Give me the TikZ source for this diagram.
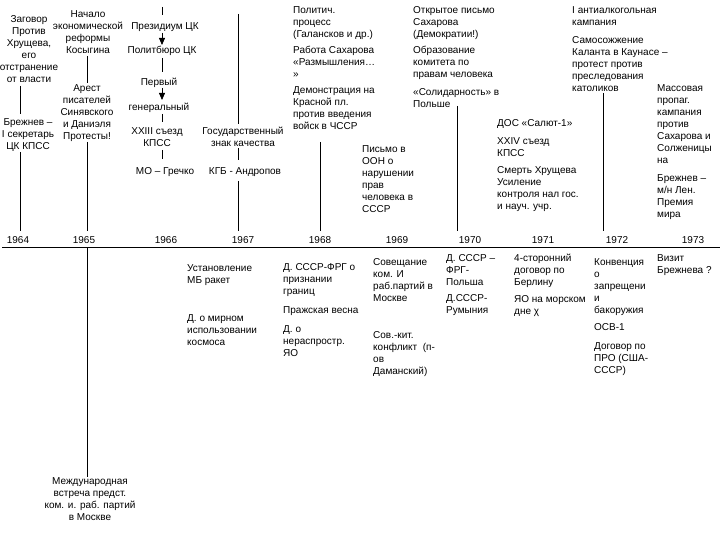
\documentclass[tikz,border=0pt]{standalone}
\usepackage{fontspec}
\setmainfont{Liberation Sans}
\usetikzlibrary{arrows.meta}
\begin{document}
\begin{tikzpicture}[x=1pt,y=-1pt,
  every node/.style={inner sep=0pt, font=\fontsize{10}{12}\selectfont},
  tl/.style={anchor=north west, align=left},
  tc/.style={anchor=north, align=center},
  yr/.style={anchor=center},
  vl/.style={line width=0.8pt},
  ar/.style={line width=0.8pt, -{Triangle[width=6pt,length=7pt]}},
  axis/.style={line width=1.2pt}]
\path[use as bounding box, fill=white] (0,0) rectangle (720,540);

% ---- 1964
\node[tc] (z64) at (29,13.6) {\strut Заговор\\Против\\Хрущева,\\его\\отстранение\\от власти};
\node[tc] (b64) at (28,116.6) {\strut Брежнев –\\I секретарь\\ЦК КПСС};
% ---- 1965
\node[tc] (n65) at (88,8.6) {\strut Начало\\экономической\\реформы\\Косыгина};
\node[tc] (a65) at (87,82.6) {\strut Арест\\писателей\\Синявского\\и Даниэля\\Протесты!};
\node[tc] (m65) at (90,475.6) {\strut Международная\\встреча предст.\\ком. и. раб. партий\\в Москве};
% ---- 1966
\node[tc] (p66) at (165,20.6) {\strut Президиум ЦК};
\node[tc] (pb66) at (162,44.6) {\strut Политбюро ЦК};
\node[tc] (f66) at (159,76.6) {\strut Первый};
\node[tc] (g66) at (159,101.6) {\strut генеральный};
\node[tc] (s66) at (157,125.6) {\strut XXIII съезд\\КПСС};
\node[tc] (mo66) at (165,165.6) {\strut МО – Гречко};
% ---- 1967
\node[tc] (gz67) at (243,125.6) {\strut Государственный\\знак качества};
\node[tc] (kgb67) at (245,165.6) {\strut КГБ - Андропов};
% ---- 1968
\node[tl] (pol68) at (293,4.6) {\strut Политич.\\процесс\\(Галансков и др.)};
\node[tl] (rab68) at (293,44.6) {\strut Работа Сахарова\\«Размышления…\\»};
\node[tl] (dem68) at (293,84.6) {\strut Демонстрация на\\Красной пл.\\против введения\\войск в ЧССР};
\node[tl] (pis69) at (362,143.6) {\strut Письмо в\\ООН о\\нарушении\\прав\\человека в\\СССР};
% ---- 1970
\node[tl] (otk70) at (413,4.6) {\strut Открытое письмо\\Сахарова\\(Демократии!)};
\node[tl] (obr70) at (413,44.6) {\strut Образование\\комитета по\\правам человека};
\node[tl] (sol70) at (413,86.6) {\strut «Солидарность» в\\Польше};
\node[tl] (dos71) at (497,117.6) {\strut ДОС «Салют-1»};
\node[tl] (xxiv71) at (497,135.6) {\strut XXIV съезд\\КПСС};
\node[tl] (sm71) at (497,164.6) {\strut Смерть Хрущева\\Усиление\\контроля нал гос.\\и науч. учр.};
% ---- 1972
\node[tl] (ant72) at (572,4.6) {\strut I антиалкогольная\\кампания};
\node[tl] (sam72) at (572,34.6) {\strut Самосожжение\\Каланта в Каунасе –\\протест против\\преследования\\католиков};
\node[tl] (mas73) at (657,82.6) {\strut Массовая\\пропаг.\\кампания\\против\\Сахарова и\\Солженицы\\на};
\node[tl] (br73) at (657,172.6) {\strut Брежнев –\\м/н Лен.\\Премия\\мира};

% ---- below the axis
\node[tl] (ust66) at (187,262.6) {\strut Установление\\МБ ракет};
\node[tl] (dom66) at (187,312.6) {\strut Д. о мирном\\использовании\\космоса};
\node[tl] (dfrg68) at (283,261.6) {\strut Д. СССР-ФРГ о\\признании\\границ};
\node[tl] (pra68) at (283,304.6) {\strut Пражская весна};
\node[tl] (dnr68) at (283,323.6) {\strut Д. о\\нераспростр.\\ЯО};
\node[tl] (sov69) at (373,256.6) {\strut Совещание\\ком. И\\раб.партий в\\Москве};
\node[tl] (kit69) at (373,329.6) {\strut Сов.-кит.\\конфликт\ \ (п-\\ов\\Даманский)};
\node[tl] (dfp70) at (446,252.6) {\strut Д. СССР –\\ФРГ-\\Польша};
\node[tl] (dru70) at (446,292.6) {\strut Д.СССР-\\Румыния};
\node[tl] (ber71) at (514,252.6) {\strut 4-сторонний\\договор по\\Берлину};
\node[tl] (yao71) at (514,293.6) {\strut ЯО на морском\\дне χ};
\node[tl] (kon72) at (594,256.6) {\strut Конвенция\\о\\запрещени\\и\\бакоружия};
\node[tl] (osv72) at (594,321.6) {\strut ОСВ-1};
\node[tl] (pro72) at (594,340.6) {\strut Договор по\\ПРО (США-\\СССР)};
\node[tl] (viz73) at (657,252.6) {\strut Визит\\Брежнева ?};

% ---- years
\foreach \yy/\xx in {1964/18,1965/84,1966/166,1967/243,1968/320,1969/397,1970/470,1971/543,1972/617,1973/693}
  \node[yr] (y\yy) at (\xx,240) {\yy};

% ---- axis
\coordinate (axL) at (2,247.5);
\coordinate (axR) at (720,247.5);
\draw[axis] (axL) -- (axR);

% ---- connector ends
\coordinate (c64a) at (20,86);  \coordinate (c64b) at (20,114);
\coordinate (c64c) at (20,152); \coordinate (c64d) at (20,231);
\coordinate (c65a) at (87,56);  \coordinate (c65b) at (87,83);
\coordinate (c65c) at (87,142); \coordinate (c65d) at (87,231);
\coordinate (c65e) at (87,248); \coordinate (c65f) at (87,477);
\coordinate (c66a) at (162,7);  \coordinate (c66b) at (162,15);
\coordinate (c66c) at (162,33); \coordinate (c66d) at (162,45);
\coordinate (c66e) at (162,58); \coordinate (c66f) at (162,72);
\coordinate (c66g) at (162,88); \coordinate (c66h) at (162,100);
\coordinate (c66i) at (162,114);\coordinate (c66j) at (162,122);
\coordinate (c66k) at (162,150);\coordinate (c66l) at (162,159);
\coordinate (c67a) at (238,14); \coordinate (c67b) at (238,124);
\coordinate (c67c) at (238,148);\coordinate (c67d) at (238,160);
\coordinate (c67e) at (238,181);\coordinate (c67f) at (238,231);
\coordinate (c68a) at (320,142);\coordinate (c68b) at (320,231);
\coordinate (c70a) at (457,106);\coordinate (c70b) at (457,231);
\coordinate (c72a) at (603,93); \coordinate (c72b) at (603,231);

\draw[vl] (c64a) -- (c64b);
\draw[vl] (c64c) -- (c64d);
\draw[vl] (c65a) -- (c65b);
\draw[vl] (c65c) -- (c65d);
\draw[vl] (c65e) -- (c65f);
\draw[vl] (c66a) -- (c66b);
\draw[ar] (c66c) -- (c66d);
\draw[vl] (c66e) -- (c66f);
\draw[ar] (c66g) -- (c66h);
\draw[vl] (c66i) -- (c66j);
\draw[vl] (c66k) -- (c66l);
\draw[vl] (c67a) -- (c67b);
\draw[vl] (c67c) -- (c67d);
\draw[vl] (c67e) -- (c67f);
\draw[vl] (c68a) -- (c68b);
\draw[vl] (c70a) -- (c70b);
\draw[vl] (c72a) -- (c72b);
\end{tikzpicture}
\end{document}
